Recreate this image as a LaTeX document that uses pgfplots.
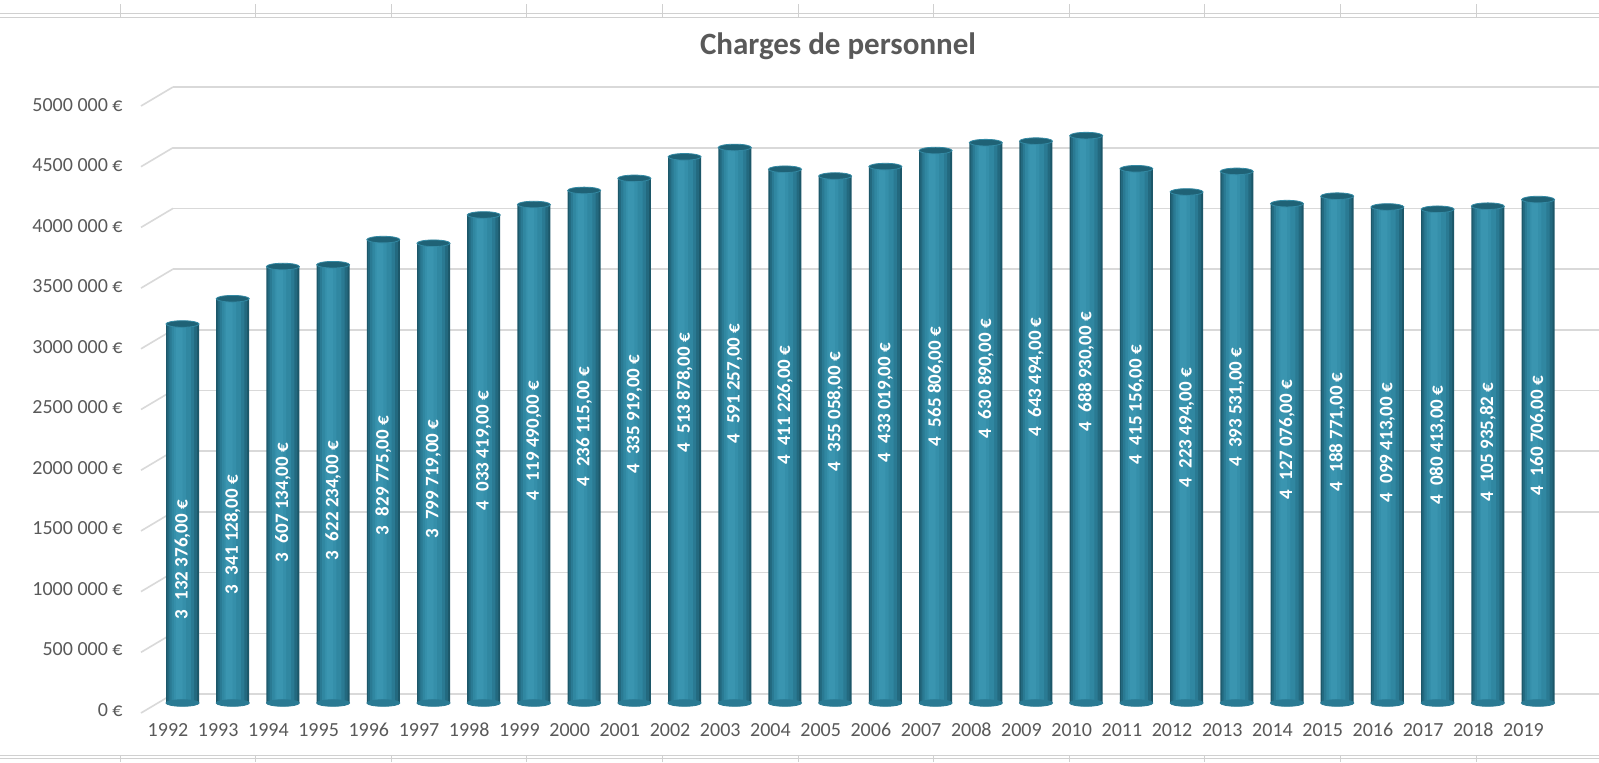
\documentclass[border=0pt]{standalone}
\usepackage{fontspec}
\setmainfont{Carlito}
\usepackage{pgfplots}
\usepackage{pgfplotstable}
\pgfplotsset{compat=1.18}
\definecolor{txt}{HTML}{595959}
\definecolor{gridc}{HTML}{D9D9D9}
\definecolor{sheet}{HTML}{D0D0D0}
\definecolor{s1}{HTML}{1C5769}
\definecolor{s2}{HTML}{23697F}
\definecolor{s3}{HTML}{2A7A93}
\definecolor{s4}{HTML}{3087A1}
\definecolor{s5}{HTML}{358FAA}
\definecolor{s6}{HTML}{3A95B0}
\definecolor{ctop}{HTML}{1F6276}
\definecolor{ctoprim}{HTML}{3389A3}

\pgfplotstableread[col sep=semicolon]{
x;v;lab
0;3132376;3\enspace 132 376,00 €
1;3341128;3\enspace 341 128,00 €
2;3607134;3\enspace 607 134,00 €
3;3622234;3\enspace 622 234,00 €
4;3829775;3\enspace 829 775,00 €
5;3799719;3\enspace 799 719,00 €
6;4033419;4\enspace 033 419,00 €
7;4119490;4\enspace 119 490,00 €
8;4236115;4\enspace 236 115,00 €
9;4335919;4\enspace 335 919,00 €
10;4513878;4\enspace 513 878,00 €
11;4591257;4\enspace 591 257,00 €
12;4411226;4\enspace 411 226,00 €
13;4355058;4\enspace 355 058,00 €
14;4433019;4\enspace 433 019,00 €
15;4565806;4\enspace 565 806,00 €
16;4630890;4\enspace 630 890,00 €
17;4643494;4\enspace 643 494,00 €
18;4688930;4\enspace 688 930,00 €
19;4415156;4\enspace 415 156,00 €
20;4223494;4\enspace 223 494,00 €
21;4393531;4\enspace 393 531,00 €
22;4127076;4\enspace 127 076,00 €
23;4188771;4\enspace 188 771,00 €
24;4099413;4\enspace 099 413,00 €
25;4080413;4\enspace 080 413,00 €
26;4105935.82;4\enspace 105 935,82 €
27;4160706;4\enspace 160 706,00 €
}\chargesdata

\begin{document}
\begin{tikzpicture}
\path[use as bounding box, fill=white] (0,0) rectangle (799.5pt,381pt);

% spreadsheet cell borders
\draw[sheet, line width=0.5pt] (0,374pt) -- (799.5pt,374pt);
\draw[sheet, line width=0.5pt] (0,372pt) -- (799.5pt,372pt);
\draw[sheet, line width=0.5pt] (0,3.5pt) -- (799.5pt,3.5pt);
\draw[sheet, line width=0.5pt] (0,2pt) -- (799.5pt,2pt);
\foreach \j in {0,...,10}{
  \draw[sheet, line width=0.5pt] ({(120+135.6*\j)*0.5pt},372pt) -- ({(120+135.6*\j)*0.5pt},379pt);
  \draw[sheet, line width=0.5pt] ({(120+135.6*\j)*0.5pt},0pt) -- ({(120+135.6*\j)*0.5pt},3.5pt);
}

% title
\node[font=\bfseries\fontsize{15.5}{18}\selectfont, text=txt] at (419pt,358pt) {Charges de personnel};

% back wall grid
\begin{axis}[
  at={(86.5pt,34pt)}, anchor=south west, scale only axis,
  width=713pt, height=303.5pt,
  xmin=0, xmax=1, ymin=0, ymax=5000000,
  xtick=\empty, ytick={0,500000,...,5000000}, yticklabels={},
  scaled y ticks=false,
  ymajorgrids, grid style={gridc, line width=0.8pt},
  axis line style={draw=none}, major tick length=0pt,
]
\end{axis}

% depth connectors
\foreach \k in {0,...,10}{
  \draw[gridc, line width=0.8pt] (70.5pt,{(24.5+30.35*\k)*1pt}) -- (86.5pt,{(34+30.35*\k)*1pt});
}

% front y tick labels
\begin{axis}[
  at={(70.5pt,26pt)}, anchor=south west, scale only axis,
  width=1pt, height=302.5pt,
  xmin=0, xmax=1, ymin=0, ymax=5000000,
  xtick=\empty, ytick={0,500000,...,5000000},
  scaled y ticks=false,
  yticklabels={0~€,500~000~€,1000~000~€,1500~000~€,2000~000~€,2500~000~€,3000~000~€,3500~000~€,4000~000~€,4500~000~€,5000~000~€},
  yticklabel style={anchor=east, inner sep=0pt, xshift=-9pt, text=txt, font=\fontsize{10}{12}\selectfont},
  axis line style={draw=none}, major tick length=0pt,
]
\end{axis}

% bars
\begin{axis}[
  at={(78.7pt,29.5pt)}, anchor=south west, scale only axis,
  width=702.85pt, height=302.5pt,
  xmin=-0.5, xmax=27.5, ymin=0, ymax=5000000,
  ytick=\empty, xtick={0,...,27}, scaled y ticks=false,
  xticklabels={1992,1993,1994,1995,1996,1997,1998,1999,2000,2001,2002,2003,2004,2005,2006,2007,2008,2009,2010,2011,2012,2013,2014,2015,2016,2017,2018,2019},
  xticklabel style={anchor=center, xshift=-7.25pt, yshift=-13.5pt, text=txt, font=\fontsize{10}{12}\selectfont},
  axis line style={draw=none}, major tick length=0pt,
  clip=false,
]
% rounded bottoms
\addplot[only marks, color=s3, mark=*, mark size=8.25pt, mark options={yscale=0.2, fill=s3, draw=none}]
  table[x=x, y expr=0]{\chargesdata};
% cylinder bodies: stacked stripes imitating the round shading
\addplot[ybar, bar width=16.5pt, bar shift=0pt, draw=none, fill=s1] table[x=x, y=v]{\chargesdata};
\addplot[ybar, bar width=14.85pt, bar shift=-0.165pt, draw=none, fill=s2] table[x=x, y=v]{\chargesdata};
\addplot[ybar, bar width=12.375pt, bar shift=-0.41pt, draw=none, fill=s3] table[x=x, y=v]{\chargesdata};
\addplot[ybar, bar width=9.57pt, bar shift=-0.66pt, draw=none, fill=s4] table[x=x, y=v]{\chargesdata};
\addplot[ybar, bar width=5.8pt, bar shift=-1.24pt, draw=none, fill=s5] table[x=x, y=v]{\chargesdata};
\addplot[ybar, bar width=3.3pt, bar shift=-1.65pt, draw=none, fill=s6] table[x=x, y=v]{\chargesdata};
% top caps
\addplot[only marks, color=ctop, mark=*, mark size=8.25pt, mark options={yscale=0.2, fill=ctop, draw=ctoprim, line width=0.4pt}]
  table[x=x, y=v]{\chargesdata};
% value labels
\addplot[only marks, color=white, mark=*, mark size=0pt, mark options={draw=none, fill=none},
  point meta=explicit symbolic, nodes near coords, nodes near coords align=center,
  every node near coord/.append style={anchor=center, rotate=90, text=white, inner sep=0pt, font=\bfseries\fontsize{9.5}{11}\selectfont}]
  table[x=x, y expr=\thisrow{v}-1950000, meta=lab]{\chargesdata};
\end{axis}
\end{tikzpicture}
\end{document}
